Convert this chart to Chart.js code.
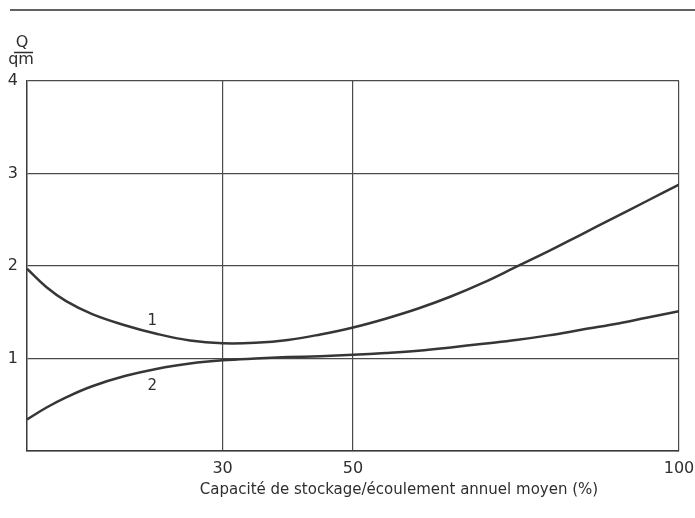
<!DOCTYPE html>
<html>
<head>
<meta charset="utf-8">
<script src="https://cdn.jsdelivr.net/npm/chart.js@4.4.0/dist/chart.umd.min.js"></script>
<style>
  body { margin: 0; background: #fff; }
  canvas { display: block; }
</style>
</head>
<body>
<canvas id="chart" width="695" height="518"></canvas>
<script>
// storage ratio (%) on x
var xValues = [0, 3, 6, 10, 15, 20, 25, 30, 35, 40, 45, 50, 55, 60, 65, 70, 75, 80, 85, 90, 95, 100];
// Q / qm for curve 1 and curve 2
var curve1 = [1.97, 1.77, 1.62, 1.48, 1.36, 1.265, 1.195, 1.165, 1.17, 1.20, 1.26, 1.335, 1.43, 1.54, 1.67, 1.82, 1.99, 2.16, 2.34, 2.52, 2.70, 2.88];
var curve2 = [0.34, 0.47, 0.58, 0.70, 0.81, 0.89, 0.945, 0.98, 1.0, 1.015, 1.025, 1.04, 1.06, 1.085, 1.12, 1.16, 1.20, 1.25, 1.31, 1.37, 1.44, 1.51];

var xTicks = [30, 50, 100];
var yTicks = [0, 1, 2, 3, 4];
var xTitle = 'Capacité de stockage/écoulement annuel moyen (%)';

var curveNames = ['1', '2'];
var nameX = [19.2, 19.2];
var nameY = [1.40, 0.70];

var ink = '#2e2e2e';
var fontFamily = '"DejaVu Sans", sans-serif';

function toPoints(ys){
    return xValues.map(function(x, i){ return {x: x, y: ys[i]}; });
}

function lineSet(ys){
    return {
        data: toPoints(ys),
        showLine: true,
        borderColor: '#363636',
        borderWidth: 2.5,
        pointRadius: 0,
        tension: 0.4,
        fill: false
    };
}

// curve numbers, axis titles and top rule
var extras = {
    id: 'extras',
    afterDatasetsDraw: function(chart){
        var ctx = chart.ctx;
        var xs = chart.scales.x, ys = chart.scales.y;
        ctx.save();
        ctx.fillStyle = ink;
        ctx.font = '15px ' + fontFamily;
        ctx.textAlign = 'center';
        ctx.textBaseline = 'middle';
        for (var i = 0; i < curveNames.length; i++){
            ctx.fillText(curveNames[i], xs.getPixelForValue(nameX[i]), ys.getPixelForValue(nameY[i]));
        }

        // x title, sits right of centre like the original
        ctx.fillText(xTitle, 399, 490);

        // Q over qm
        ctx.font = '16px ' + fontFamily;
        ctx.fillText('Q', 22, 43);
        ctx.fillText('qm', 21, 60);
        ctx.strokeStyle = ink;
        ctx.lineWidth = 1.5;
        ctx.beginPath();
        ctx.moveTo(14, 52.5);
        ctx.lineTo(33, 52.5);
        ctx.stroke();

        // rule across the top
        ctx.beginPath();
        ctx.moveTo(10, 10);
        ctx.lineTo(695, 10);
        ctx.stroke();
        ctx.restore();
    }
};

new Chart(document.getElementById('chart').getContext('2d'), {
    type: 'scatter',
    data: {
        datasets: [lineSet(curve1), lineSet(curve2)]
    },
    options: {
        responsive: false,
        animation: false,
        layout: { padding: { top: 81, right: 16, left: 0, bottom: 0 } },
        plugins: {
            legend: { display: false },
            tooltip: { enabled: false }
        },
        scales: {
            x: {
                type: 'linear',
                min: 0,
                max: 100,
                afterBuildTicks: function(scale){
                    scale.ticks = xTicks.map(function(v){ return {value: v}; });
                },
                afterFit: function(scale){
                    scale.height = 67;
                    scale.paddingLeft = 0;
                    scale.paddingRight = 0;
                },
                grid: { color: '#4a4a4a', lineWidth: 1.2, drawTicks: false },
                border: { color: '#3a3a3a', width: 1.5 },
                ticks: {
                    padding: 8,
                    autoSkip: false,
                    maxRotation: 0,
                    color: ink,
                    font: { family: fontFamily, size: 16 }
                }
            },
            y: {
                min: 0,
                max: 4,
                afterBuildTicks: function(scale){
                    scale.ticks = yTicks.map(function(v){ return {value: v}; });
                },
                afterFit: function(scale){ scale.width = 27; },
                grid: { color: '#4a4a4a', lineWidth: 1.2, drawTicks: false },
                border: { color: '#3a3a3a', width: 1.5 },
                ticks: {
                    padding: 9,
                    color: ink,
                    font: { family: fontFamily, size: 16 },
                    callback: function(v){ return v === 0 ? '' : v; }
                }
            }
        }
    },
    plugins: [extras]
});
</script>
</body>
</html>
